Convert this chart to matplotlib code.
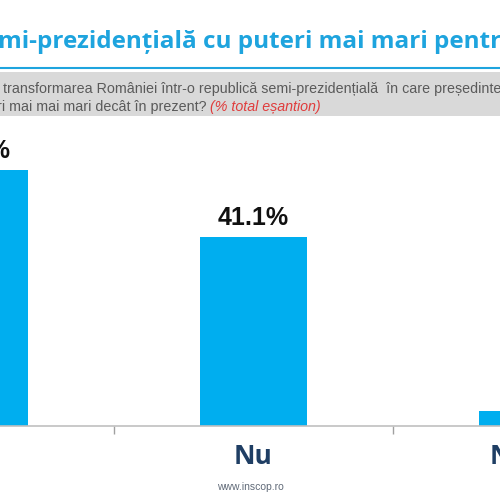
import matplotlib.pyplot as plt
import matplotlib.ticker as mticker

# data read from the (cropped) reference
categories = ["Da", "Nu", "NS/NR"]
values = [55.7, 41.1, 3.2]
labels = ["55.7%", "41.1%", "3.2%"]

BAR_BLUE = "#00aeef"
TITLE_BLUE = "#1ea4de"
NAVY = "#1f3e64"

fig = plt.figure(figsize=(5, 5), dpi=100)

# axes wider than the figure, so that the picture is cropped like the reference
ax = fig.add_axes([-0.33, 0.148, 1.674, 0.552])
ax.bar(range(len(categories)), values, width=0.387, color=BAR_BLUE)
ax.set_xlim(-0.5, len(categories) - 0.5)
ax.set_ylim(0, 60)

for i, (v, lab) in enumerate(zip(values, labels)):
    ax.annotate(lab, (i, v), xytext=(0, 5), textcoords="offset points",
                ha="center", va="bottom", fontsize=18, fontweight="bold",
                family="Liberation Sans", color="#111111")

for side in ["left", "right", "top"]:
    ax.spines[side].set_visible(False)
ax.spines["bottom"].set_color("#c0c0c0")
ax.spines["bottom"].set_linewidth(1.2)
ax.set_yticks([])
ax.set_xticks(range(len(categories)))
ax.set_xticklabels(categories, fontsize=19, fontweight="bold", color=NAVY,
                   family="Open Sans")
ax.tick_params(axis="x", which="major", length=0, pad=12)
ax.xaxis.set_minor_locator(mticker.FixedLocator([0.5, 1.5]))
ax.tick_params(axis="x", which="minor", length=6, color="#a0a0a0", width=1)

# title (cropped at both ends in the reference)
fig.text(-0.005, 0.917, "mi-prezidențială cu puteri mai mari pentru președinte",
         fontsize=17.5, fontweight="bold", color=TITLE_BLUE, family="Open Sans",
         ha="left", va="center")
fig.add_artist(plt.Line2D([0, 1], [0.864, 0.864], color=TITLE_BLUE, lw=1.5))

# grey question box
fig.add_artist(plt.Rectangle((0, 0.768), 1, 0.089, color="#d9d9d9", lw=0))
fig.text(0.006, 0.823,
         "transformarea României într-o republică semi-prezidențială  în care președintele",
         fontsize=10.3, color="#5a5a5a", family="Liberation Sans", ha="left", va="center")
t = fig.text(-0.006, 0.786, "ri mai mai mari decât în prezent? ",
             fontsize=10.3, color="#5a5a5a", family="Liberation Sans", ha="left", va="center")
fig.canvas.draw()
bb = t.get_window_extent().transformed(fig.transFigure.inverted())
fig.text(bb.x1, 0.786, "(% total eșantion)", fontsize=10.3, color="#e03c3c",
         style="italic", family="Liberation Sans", ha="left", va="center")

fig.text(0.5, 0.027, "www.inscop.ro", fontsize=7.5, color="#606a78",
         family="Liberation Sans", ha="center", va="center")

fig.savefig("out.png", dpi=100)
